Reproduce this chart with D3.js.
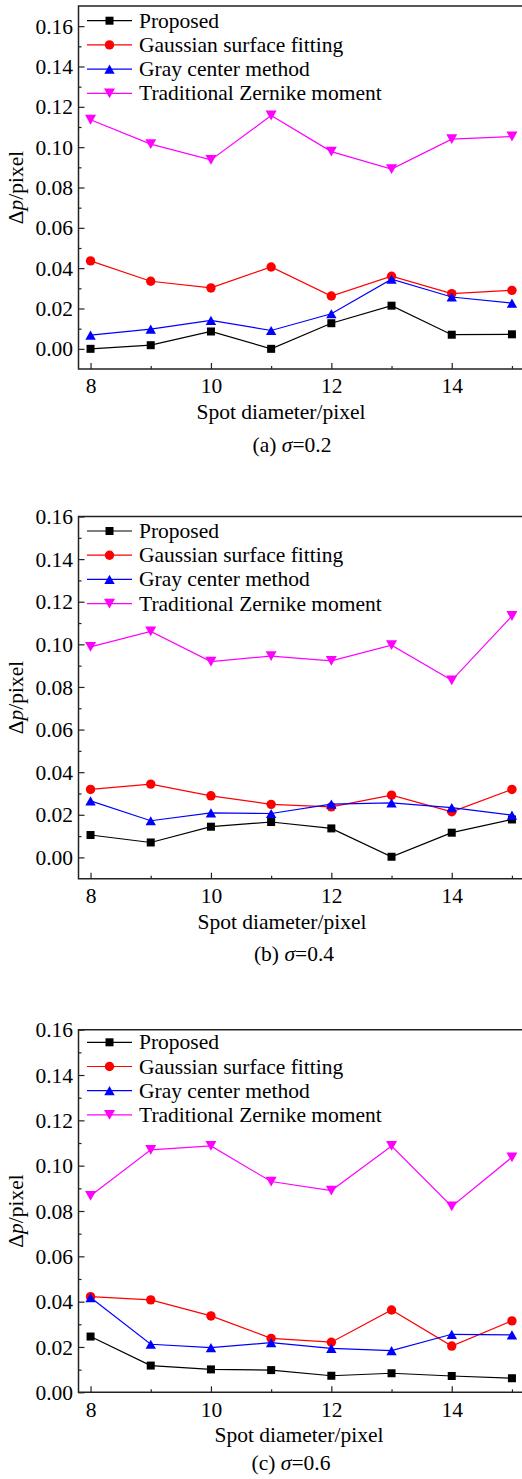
<!DOCTYPE html>
<html>
<head>
<meta charset="utf-8">
<script src="https://cdn.jsdelivr.net/npm/d3@7"></script>
<style>
  html, body { margin: 0; padding: 0; background: #fff; }
  svg { display: block; }
  text { font-family: "Liberation Serif", "Times New Roman", serif; fill: #000; }
</style>
</head>
<body>
<script>
// ---------------- DATA ----------------
const diameters = [8, 9, 10, 11, 12, 13, 14, 15];
const seriesNames = ["Proposed", "Gaussian surface fitting", "Gray center method", "Traditional Zernike moment"];
const xMajorTicks = [8, 10, 12, 14];
const xMinorTicks = [9, 11, 13, 15];
const yTickLabels = ["0.00", "0.02", "0.04", "0.06", "0.08", "0.10", "0.12", "0.14", "0.16"];
const xAxisTitle = "Spot diameter/pixel";
const captionLetters = ["(a)", "(b)", "(c)"];
const sigmaValues = ["0.2", "0.4", "0.6"];

// panel (a) sigma = 0.2
const proposedA = [0.0000, 0.0018, 0.0086, 0.0000, 0.0127, 0.0214, 0.0070, 0.0072];
const gaussianA = [0.0436, 0.0335, 0.0302, 0.0406, 0.0262, 0.0360, 0.0274, 0.0290];
const grayA     = [0.0068, 0.0098, 0.0141, 0.0091, 0.0174, 0.0345, 0.0257, 0.0227];
const zernikeA  = [0.1136, 0.1015, 0.0937, 0.1157, 0.0978, 0.0891, 0.1040, 0.1053];

// panel (b) sigma = 0.4
const proposedB = [0.0105, 0.0070, 0.0144, 0.0166, 0.0136, 0.0003, 0.0116, 0.0178];
const gaussianB = [0.0319, 0.0344, 0.0289, 0.0249, 0.0237, 0.0292, 0.0214, 0.0319];
const grayB     = [0.0265, 0.0172, 0.0209, 0.0206, 0.0250, 0.0256, 0.0234, 0.0198];
const zernikeB  = [0.0988, 0.1061, 0.0919, 0.0945, 0.0922, 0.0996, 0.0831, 0.1133];

// panel (c) sigma = 0.6
const proposedC = [0.0246, 0.0118, 0.0101, 0.0098, 0.0073, 0.0084, 0.0072, 0.0062];
const gaussianC = [0.0422, 0.0408, 0.0337, 0.0238, 0.0221, 0.0363, 0.0204, 0.0315];
const grayC     = [0.0418, 0.0212, 0.0197, 0.0219, 0.0194, 0.0184, 0.0256, 0.0253];
const zernikeC  = [0.0867, 0.1070, 0.1087, 0.0930, 0.0890, 0.1087, 0.0820, 0.1037];

// ---------------- STYLE / LAYOUT ----------------
const W = 522, H = 1479;
const colors = ["#000000", "#ff0000", "#0000ff", "#ff00ff"];
const markers = ["square", "circle", "triUp", "triDown"];
const FS = 21.5;

const panels = [
  { series: [proposedA, gaussianA, grayA, zernikeA], yDomain: [-0.01, 0.17], top: 6, bottom: 369,
    legendY: 20.7, titleX: 281, captionX: 292, captionY: 452 },
  { series: [proposedB, gaussianB, grayB, zernikeB], yDomain: [-0.01, 0.16], top: 516.5, bottom: 878.7,
    legendY: 531, titleX: 282, captionX: 294, captionY: 961 },
  { series: [proposedC, gaussianC, grayC, zernikeC], yDomain: [0, 0.16], top: 1029.7, bottom: 1392.3,
    legendY: 1042.3, titleX: 299, captionX: 291, captionY: 1470 }
];

const left = 78.5;
const unit = 60.2;
const xDomain = [7.8, 15.2];
const right = left + (xDomain[1] - xDomain[0]) * unit;

const svg = d3.select("body").append("svg").attr("width", W).attr("height", H);

function markerPath(type) {
  if (type === "triUp") { const w = 10.4, h = 9.2; return `M0,${-h/2}L${w/2},${h/2}L${-w/2},${h/2}Z`; }
  if (type === "triDown") { const w = 11, h = 9.8; return `M0,${h/2}L${w/2},${-h/2}L${-w/2},${-h/2}Z`; }
  return null;
}
function drawMarker(g, type, color, x, y) {
  if (type === "square") {
    g.append("rect").attr("x", x - 4).attr("y", y - 4).attr("width", 8).attr("height", 8).attr("fill", color);
  } else if (type === "circle") {
    g.append("circle").attr("cx", x).attr("cy", y).attr("r", 4.7).attr("fill", color);
  } else {
    g.append("path").attr("d", markerPath(type)).attr("transform", `translate(${x},${y})`).attr("fill", color);
  }
}

panels.forEach((p, pi) => {
  const g = svg.append("g");
  const x = d3.scaleLinear().domain(xDomain).range([left, right]);
  const y = d3.scaleLinear().domain(p.yDomain).range([p.bottom, p.top]);

  const yMinor = d3.range(-1, 17).map(v => v / 100).filter(v => Math.round(v * 100) % 2 !== 0 && v > p.yDomain[0] && v < p.yDomain[1]);
  const yMajor = yTickLabels.map(Number);

  const yAx = d3.axisLeft(y).tickValues(yMajor).tickFormat((d, i) => yTickLabels[i]).tickSize(-6).tickPadding(5.5);
  const yAxG = g.append("g").attr("transform", `translate(${left},0)`).call(yAx);
  const yMinG = g.append("g").attr("transform", `translate(${left},0)`)
    .call(d3.axisLeft(y).tickValues(yMinor).tickFormat("").tickSize(-3));
  const xAx = d3.axisBottom(x).tickValues(xMajorTicks).tickFormat(d3.format("d")).tickSize(-6).tickPadding(9);
  const xAxG = g.append("g").attr("transform", `translate(0,${p.bottom})`).call(xAx);
  const xMinG = g.append("g").attr("transform", `translate(0,${p.bottom})`)
    .call(d3.axisBottom(x).tickValues(xMinorTicks).tickFormat("").tickSize(-3));

  [yAxG, yMinG, xAxG, xMinG].forEach(a => {
    a.select(".domain").remove();
    a.selectAll("line").attr("stroke", "#222").attr("stroke-width", 1.2);
    a.selectAll("text").style("font-family", "Liberation Serif").style("font-size", FS + "px").attr("fill", "#000");
  });
  yAxG.selectAll("text").attr("dy", "0.33em");
  xAxG.selectAll("text").attr("dy", "0.72em");

  // frame (left, bottom, top)
  g.append("path")
    .attr("d", `M${right},${p.top}H${left}V${p.bottom}H${right}`)
    .attr("fill", "none").attr("stroke", "#222").attr("stroke-width", 1.5);

  // series
  p.series.forEach((vals, si) => {
    const line = d3.line().x((d, i) => x(diameters[i])).y(d => y(d));
    g.append("path").datum(vals).attr("d", line).attr("fill", "none")
      .attr("stroke", colors[si]).attr("stroke-width", 1.2);
    vals.forEach((v, i) => drawMarker(g, markers[si], colors[si], x(diameters[i]), y(v)));
  });

  // legend
  seriesNames.forEach((name, si) => {
    const ly = p.legendY + si * 24.2;
    g.append("line").attr("x1", 87).attr("x2", 132).attr("y1", ly).attr("y2", ly)
      .attr("stroke", colors[si]).attr("stroke-width", 1.2);
    drawMarker(g, markers[si], colors[si], 109.5, ly);
    g.append("text").attr("x", 139).attr("y", ly + 7).style("font-size", FS + "px").text(name);
  });

  // y axis title
  const yt = g.append("text")
    .attr("transform", `translate(23,${(p.top + p.bottom) / 2}) rotate(-90)`)
    .attr("text-anchor", "middle").style("font-size", FS + "px");
  yt.append("tspan").text("Δ");
  yt.append("tspan").style("font-style", "italic").text("p");
  yt.append("tspan").text("/pixel");

  // x axis title
  g.append("text").attr("x", p.titleX).attr("y", p.bottom + 50)
    .attr("text-anchor", "middle").style("font-size", FS + "px").text(xAxisTitle);

  // caption
  const cap = g.append("text").attr("x", p.captionX).attr("y", p.captionY)
    .attr("text-anchor", "middle").style("font-size", FS + "px");
  cap.append("tspan").text(captionLetters[pi] + " ");
  cap.append("tspan").style("font-style", "italic").text("σ");
  cap.append("tspan").text("=" + sigmaValues[pi]);
});
</script>
</body>
</html>
